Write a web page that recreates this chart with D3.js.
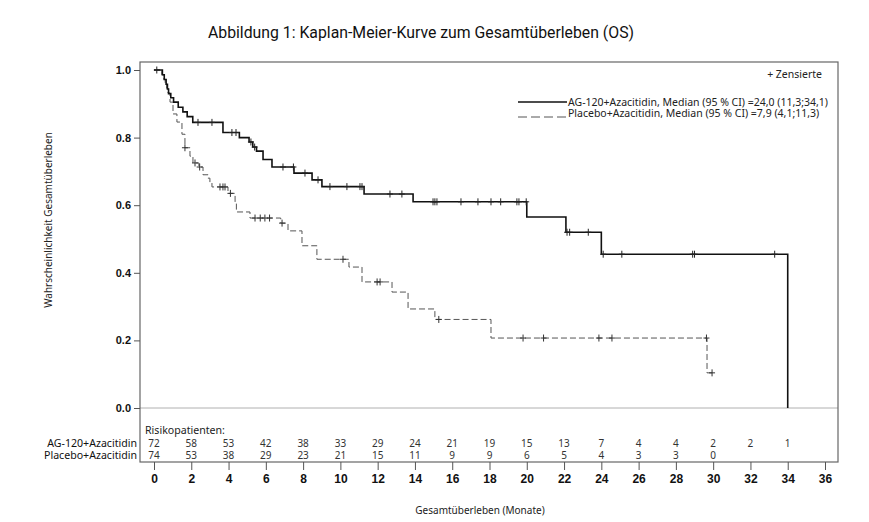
<!DOCTYPE html>
<html>
<head>
<meta charset="utf-8">
<script src="https://cdn.jsdelivr.net/npm/d3@7"></script>
<style>
  body { margin: 0; background: #fff; }
  svg { display: block; }
</style>
</head>
<body>
<svg id="chart" width="869" height="522"></svg>
<script>
// Kaplan-Meier steps: [month, survival]
const agSteps = [
  [0, 1.0], [0.45, 0.986], [0.55, 0.972], [0.65, 0.958], [0.72, 0.944], [0.78, 0.93],
  [0.9, 0.918], [1.05, 0.905], [1.3, 0.89], [1.55, 0.876], [1.78, 0.862], [2.08, 0.845],
  [3.7, 0.815], [4.58, 0.8], [5.1, 0.787], [5.3, 0.772], [5.5, 0.76], [5.85, 0.735],
  [6.33, 0.713], [7.51, 0.695], [8.48, 0.675], [9.01, 0.655], [11.27, 0.633],
  [13.9, 0.61], [20.0, 0.565], [22.1, 0.52], [24.0, 0.455], [34.0, 0.0]
];
const agCensored = [0.15, 2.36, 3.11, 4.18, 4.4, 5.2, 5.4, 6.92, 7.48, 8.1, 8.8, 9.44,
  10.35, 11.05, 11.16, 12.66, 13.3, 14.97, 15.07, 15.18, 16.47, 17.38, 18.08, 18.6,
  19.47, 19.58, 19.97, 22.16, 22.3, 23.3, 24.1, 25.1, 28.9, 29.0, 33.3];

const placeboSteps = [
  [0, 1.0], [0.42, 0.986], [0.52, 0.973], [0.6, 0.959], [0.68, 0.946], [0.75, 0.932],
  [0.86, 0.905], [1.02, 0.87], [1.23, 0.846], [1.5, 0.81], [1.66, 0.77], [1.93, 0.745],
  [2.09, 0.725], [2.41, 0.713], [2.63, 0.69], [2.9, 0.68], [3.0, 0.667], [3.11, 0.654],
  [3.97, 0.635], [4.35, 0.608], [4.42, 0.58], [5.15, 0.562], [6.8, 0.547], [7.19, 0.524],
  [7.94, 0.48], [8.74, 0.44], [10.46, 0.417], [11.16, 0.373], [12.77, 0.343],
  [13.63, 0.293], [15.07, 0.262], [18.08, 0.207], [29.67, 0.104], [30.0, 0.104]
];
const placeboCensored = [1.66, 2.2, 2.45, 3.54, 3.7, 3.81, 4.1, 5.42, 5.7, 5.95, 6.2,
  6.87, 10.14, 11.97, 12.13, 15.28, 19.8, 20.9, 23.87, 24.57, 29.64, 29.94];

const riskTimes = [0, 2, 4, 6, 8, 10, 12, 14, 16, 18, 20, 22, 24, 26, 28, 30, 32, 34];
const agRisk = [72, 58, 53, 42, 38, 33, 29, 24, 21, 19, 15, 13, 7, 4, 4, 2, 2, 1];
const placeboRisk = [74, 53, 38, 29, 23, 21, 15, 11, 9, 9, 6, 5, 4, 3, 3, 0];

const xTicks = d3.range(0, 37, 2);
const yTicks = [0, 0.2, 0.4, 0.6, 0.8, 1.0];

const seriesNames = [
  'AG-120+Azacitidin, Median (95 % CI) =24,0 (11,3;34,1)',
  'Placebo+Azacitidin, Median (95 % CI) =7,9 (4,1;11,3)'
];
const groupNames = ['AG-120+Azacitidin', 'Placebo+Azacitidin'];

const frame = {left: 140, top: 62, right: 838, bottom: 462};

const svg = d3.select('#chart');

const x = d3.scaleLinear().domain([0, 36]).range([154, 825]);
const y = d3.scaleLinear().domain([0, 1]).range([408, 70]);

const line = d3.line()
  .x(d => x(d[0]))
  .y(d => y(d[1]))
  .curve(d3.curveStepAfter);

// survival value at time t (last step at or before t)
function survivalAt(steps, t) {
  const i = d3.bisector(d => d[0]).right(steps, t) - 1;
  return steps[Math.max(0, i)][1];
}

svg.append('text')
  .attr('x', 421).attr('y', 38)
  .attr('text-anchor', 'middle')
  .attr('font-family', 'Roboto')
  .attr('font-size', 15.8)
  .attr('fill', '#111')
  .text('Abbildung 1: Kaplan-Meier-Kurve zum Gesamtüberleben (OS)');

// zero reference line
svg.append('line')
  .attr('x1', frame.left).attr('x2', frame.right)
  .attr('y1', y(0)).attr('y2', y(0))
  .attr('stroke', '#b0b0b0').attr('stroke-width', 1);

svg.append('rect')
  .attr('x', frame.left).attr('y', frame.top)
  .attr('width', frame.right - frame.left)
  .attr('height', frame.bottom - frame.top)
  .attr('fill', 'none')
  .attr('stroke', '#666').attr('stroke-width', 1.2);

// y axis
const yAxis = svg.append('g')
  .attr('transform', `translate(${frame.left},0)`)
  .call(d3.axisLeft(y).tickValues(yTicks).tickFormat(d3.format('.1f')).tickSize(6).tickPadding(3));
yAxis.select('.domain').remove();
yAxis.selectAll('line').attr('stroke', '#555');
yAxis.selectAll('text')
  .attr('font-family', 'Liberation Sans')
  .attr('font-weight', 'bold')
  .attr('font-size', 11)
  .attr('fill', '#111');

// x axis
const xAxis = svg.append('g')
  .attr('transform', `translate(0,${frame.bottom})`)
  .call(d3.axisBottom(x).tickValues(xTicks).tickSize(8).tickPadding(4));
xAxis.select('.domain').remove();
xAxis.selectAll('line').attr('stroke', '#555');
xAxis.selectAll('text')
  .attr('font-family', 'Liberation Sans')
  .attr('font-weight', 'bold')
  .attr('font-size', 12)
  .attr('fill', '#111');

svg.append('text')
  .attr('transform', 'translate(52,220) rotate(-90)')
  .attr('text-anchor', 'middle')
  .attr('font-family', 'Noto Sans')
  .attr('font-size', 10)
  .attr('fill', '#222')
  .text('Wahrscheinlichkeit Gesamtüberleben');

svg.append('text')
  .attr('x', 480).attr('y', 514)
  .attr('text-anchor', 'middle')
  .attr('font-family', 'Noto Sans')
  .attr('font-size', 10)
  .attr('fill', '#222')
  .text('Gesamtüberleben (Monate)');

// curves
svg.append('path')
  .datum(placeboSteps)
  .attr('fill', 'none')
  .attr('stroke', '#555')
  .attr('stroke-width', 1)
  .attr('stroke-dasharray', '6,3')
  .attr('d', line);

svg.append('path')
  .datum(agSteps)
  .attr('fill', 'none')
  .attr('stroke', '#111')
  .attr('stroke-width', 1.6)
  .attr('d', line);

function drawCensors(times, steps, color) {
  const g = svg.append('g').attr('stroke', color).attr('stroke-width', 1);
  times.forEach(t => {
    const cx = x(t), cy = y(survivalAt(steps, t));
    g.append('line').attr('x1', cx - 3).attr('x2', cx + 3).attr('y1', cy).attr('y2', cy);
    g.append('line').attr('x1', cx).attr('x2', cx).attr('y1', cy - 3.5).attr('y2', cy + 3.5);
  });
}
drawCensors(placeboCensored, placeboSteps, '#333');
drawCensors(agCensored, agSteps, '#222');

// legend
svg.append('text')
  .attr('x', 822).attr('y', 78)
  .attr('text-anchor', 'end')
  .attr('font-family', 'Noto Sans')
  .attr('font-size', 10.5)
  .attr('fill', '#222')
  .text('+ Zensierte');

const legend = svg.append('g').attr('font-family', 'Noto Sans').attr('font-size', 10.5).attr('fill', '#222');
legend.append('line')
  .attr('x1', 518).attr('x2', 567).attr('y1', 102).attr('y2', 102)
  .attr('stroke', '#111').attr('stroke-width', 1.6);
legend.append('line')
  .attr('x1', 518).attr('x2', 567).attr('y1', 117).attr('y2', 117)
  .attr('stroke', '#555').attr('stroke-width', 1).attr('stroke-dasharray', '9,4');
legend.selectAll('text.series')
  .data(seriesNames)
  .join('text')
  .attr('class', 'series')
  .attr('x', 568)
  .attr('y', (d, i) => 105.5 + i * 11.5)
  .text(d => d);

// risk table
const table = svg.append('g').attr('font-family', 'Noto Sans').attr('font-size', 10).attr('fill', '#333');
table.append('text')
  .attr('x', 145).attr('y', 434)
  .attr('font-size', 10.6)
  .attr('fill', '#222')
  .text('Risikopatienten:');

table.selectAll('text.group')
  .data(groupNames)
  .join('text')
  .attr('class', 'group')
  .attr('x', 137)
  .attr('y', (d, i) => 446.5 + i * 12)
  .attr('text-anchor', 'end')
  .attr('font-size', 10.6)
  .attr('fill', '#111')
  .text(d => d);

[agRisk, placeboRisk].forEach((row, r) => {
  table.selectAll(`text.risk${r}`)
    .data(row)
    .join('text')
    .attr('class', `risk${r}`)
    .attr('x', (d, i) => x(riskTimes[i]))
    .attr('y', 446.5 + r * 12)
    .attr('text-anchor', 'middle')
    .text(d => d);
});
</script>
</body>
</html>
